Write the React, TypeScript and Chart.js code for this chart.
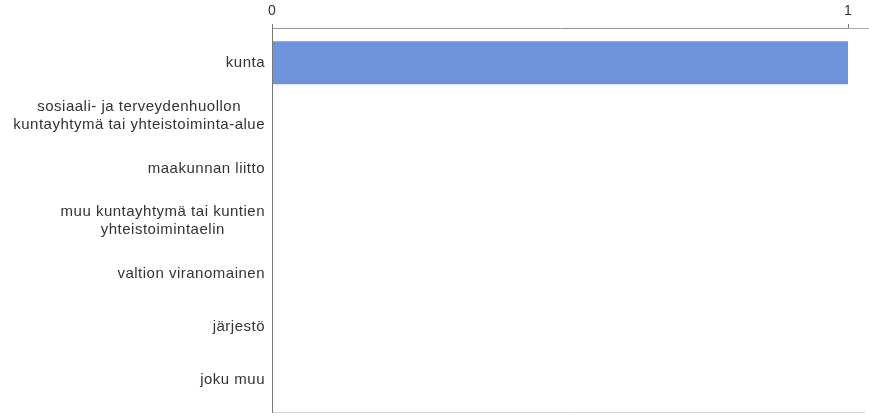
import React, { useEffect, useRef } from "react";
import { Chart, registerables } from "chart.js";

Chart.register(...registerables);

const categories: string[][] = [
  ["kunta"],
  ["sosiaali- ja terveydenhuollon", "kuntayhtymä tai yhteistoiminta-alue"],
  ["maakunnan liitto"],
  ["muu kuntayhtymä tai kuntien", "yhteistoimintaelin"],
  ["valtion viranomainen"],
  ["järjestö"],
  ["joku muu"],
];
const values: number[] = [1, 0, 0, 0, 0, 0, 0];
const xTicks: number[] = [0, 1];

const FONT = "'Liberation Sans', Arial, sans-serif";

const decorations = {
  id: "decorations",
  afterDraw(chart: any) {
    const { ctx, chartArea, scales } = chart;
    ctx.save();
    ctx.lineWidth = 1;
    ctx.strokeStyle = "#aaaaaa";
    ctx.beginPath();
    ctx.moveTo(chartArea.right, chartArea.top + 0.5);
    ctx.lineTo(chart.width, chartArea.top + 0.5);
    ctx.stroke();
    ctx.strokeStyle = "#d6d6d6";
    ctx.beginPath();
    ctx.moveTo(chartArea.left, chartArea.bottom - 0.5);
    ctx.lineTo(chart.width - 4, chartArea.bottom - 0.5);
    ctx.stroke();
    // left axis line drawn on top of the bars
    const lx = Math.round(chartArea.left) + 0.5;
    ctx.strokeStyle = "#777777";
    ctx.beginPath();
    ctx.moveTo(lx, chartArea.top - 1);
    ctx.lineTo(lx, chartArea.bottom);
    ctx.stroke();
    const y = scales.y;
    ctx.font = `15px ${FONT}`;
    (ctx as any).letterSpacing = "0.5px";
    ctx.fillStyle = "#333333";
    ctx.textAlign = "center";
    ctx.textBaseline = "middle";
    const lineH = 18;
    categories.forEach((lines, i) => {
      const cy = y.getPixelForValue(i);
      const maxW = Math.max(...lines.map((l) => ctx.measureText(l).width));
      const cx = chartArea.left - 7 - maxW / 2;
      const startY = cy - ((lines.length - 1) * lineH) / 2;
      lines.forEach((l, j) => ctx.fillText(l, cx, startY + j * lineH));
    });
    ctx.restore();
  },
};

export default function App() {
  const ref = useRef<HTMLCanvasElement>(null);
  useEffect(() => {
    if (!ref.current) return;
    const chart = new Chart(ref.current, {
      type: "bar",
      data: {
        datasets: [
          {
            data: values.map((v, i) => ({ x: v, y: i })),
            backgroundColor: "#6f93db",
            borderWidth: 0,
            inflateAmount: 0,
            barThickness: 43,
          },
        ],
      },
      plugins: [decorations],
      options: {
        indexAxis: "y",
        animation: false,
        responsive: false,
        maintainAspectRatio: false,
        layout: { padding: { left: 0, right: 21, top: 0, bottom: 3 } },
        plugins: { legend: { display: false }, tooltip: { enabled: false } },
        scales: {
          x: {
            type: "linear",
            position: "top",
            min: 0,
            max: 1,
            afterBuildTicks: (scale: any) => {
              scale.ticks = xTicks.map((v) => ({ value: v }));
            },
            afterFit: (scale: any) => {
              scale.height = 28;
            },
            grid: {
              color: "rgba(0,0,0,0)",
              tickColor: "#777",
              tickLength: 4,
              drawTicks: true,
            },
            border: { display: true, color: "#999", width: 1 },
            ticks: {
              color: "#333",
              padding: 4,
              font: { family: FONT, size: 14 },
            },
          },
          y: {
            type: "linear",
            reverse: true,
            offset: false,
            min: -0.66,
            max: 6.63,
            afterBuildTicks: (scale: any) => {
              scale.ticks = categories.map((_, i) => ({ value: i }));
            },
            afterFit: (scale: any) => {
              scale.width = 272;
              scale.paddingTop = 0;
              scale.paddingBottom = 0;
            },
            grid: { display: false, drawTicks: false, offset: false },
            border: { display: false },
            ticks: { display: false },
          },
        },
      },
    });
    return () => chart.destroy();
  }, []);
  return (
    <div style={{ position: "absolute", left: 0, top: 0, width: 869, height: 416, background: "#fff" }}>
      <canvas ref={ref} width={869} height={416} style={{ width: 869, height: 416 }} />
    </div>
  );
}
